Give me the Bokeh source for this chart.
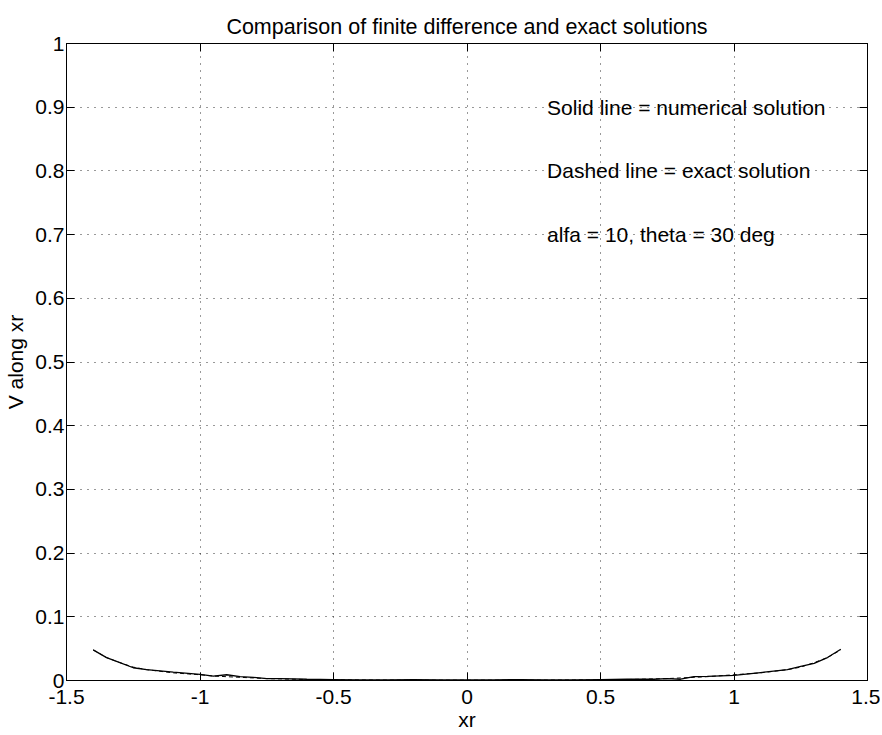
from bokeh.plotting import figure
from bokeh.models import LinearAxis, FixedTicker, Range1d, Label
from bokeh.embed import file_html
from bokeh.resources import INLINE

# Data
xr = [-1.4, -1.35, -1.3, -1.25, -1.2, -1.1, -1.0, -0.95, -0.9, -0.85, -0.8, -0.75, -0.7, -0.6,
      -0.5, -0.4, -0.3, -0.2, -0.1, 0.0, 0.1, 0.2, 0.3, 0.4, 0.5, 0.6, 0.7, 0.75, 0.8, 0.85,
      0.9, 1.0, 1.1, 1.2, 1.25, 1.3, 1.35, 1.4]
v_num = [0.048, 0.036, 0.028, 0.020, 0.017, 0.013, 0.0095, 0.007, 0.009, 0.006, 0.005, 0.003,
         0.003, 0.002, 0.0015, 0.001, 0.001, 0.0015, 0.001, 0.001, 0.001, 0.0015, 0.001, 0.001,
         0.0015, 0.002, 0.002, 0.003, 0.002, 0.006, 0.0065, 0.008, 0.0125, 0.017, 0.022,
         0.027, 0.036, 0.049]
v_exact = [0.048, 0.036, 0.028, 0.021, 0.017, 0.012, 0.009, 0.007, 0.006, 0.005, 0.004, 0.003,
           0.0025, 0.0015, 0.001, 0.0008, 0.0006, 0.0005, 0.0005, 0.0005, 0.0005, 0.0005, 0.0006,
           0.0008, 0.001, 0.0015, 0.0025, 0.003, 0.004, 0.005, 0.006, 0.009, 0.012, 0.017,
           0.021, 0.028, 0.036, 0.048]
x_ticks = [-1.5, -1, -0.5, 0, 0.5, 1, 1.5]
x_tick_labels = ["-1.5", "-1", "-0.5", "0", "0.5", "1", "1.5"]
y_ticks = [0, 0.1, 0.2, 0.3, 0.4, 0.5, 0.6, 0.7, 0.8, 0.9, 1]
y_tick_labels = ["0", "0.1", "0.2", "0.3", "0.4", "0.5", "0.6", "0.7", "0.8", "0.9", "1"]
notes = ["Solid line = numerical solution", "Dashed line = exact solution",
         "alfa = 10, theta = 30 deg"]
note_x = [0.3, 0.3, 0.3]
note_y = [0.9, 0.8, 0.7]

FONT = "Liberation Sans"
FS = "21px"

p = figure(width=880, height=733, output_backend="svg", toolbar_location=None,
           x_range=Range1d(-1.5, 1.5), y_range=Range1d(0, 1),
           min_border_left=66, min_border_right=13, min_border_top=43, min_border_bottom=52,
           x_axis_label="xr", y_axis_label="V along xr")
p.title.text = "Comparison of finite difference and exact solutions"
p.title.align = "center"
p.title.text_font = FONT
p.title.text_font_size = "21.5px"
p.title.text_font_style = "normal"
p.title.text_color = "black"
p.outline_line_color = "black"
p.outline_line_width = 1

for ax in p.xaxis + p.yaxis:
    ax.major_label_text_font = FONT
    ax.major_label_text_font_size = FS
    ax.major_label_text_color = "black"
    ax.axis_label_text_font = FONT
    ax.axis_label_text_font_size = FS
    ax.axis_label_text_font_style = "normal"
    ax.axis_label_text_color = "black"
    ax.major_tick_in = 8
    ax.major_tick_out = 0
    ax.minor_tick_in = 0
    ax.minor_tick_out = 0
    ax.axis_line_color = "black"
    ax.major_tick_line_color = "black"
p.xaxis.ticker = FixedTicker(ticks=x_ticks)
p.yaxis.ticker = FixedTicker(ticks=y_ticks)
p.xaxis.major_label_overrides = {t: s for t, s in zip(x_ticks, x_tick_labels)}
p.yaxis.major_label_overrides = {t: s for t, s in zip(y_ticks, y_tick_labels)}
p.xaxis.major_label_standoff = 9
p.xaxis.axis_label_standoff = 1
p.yaxis.major_label_standoff = 2
p.yaxis.axis_label_standoff = 5

# box axes (top / right), no labels
top = LinearAxis(ticker=FixedTicker(ticks=x_ticks), major_label_text_font_size="0px",
                 major_tick_in=8, major_tick_out=0, minor_tick_in=0, minor_tick_out=0)
right = LinearAxis(ticker=FixedTicker(ticks=y_ticks), major_label_text_font_size="0px",
                   major_tick_in=8, major_tick_out=0, minor_tick_in=0, minor_tick_out=0)
p.add_layout(top, "above")
p.add_layout(right, "right")

p.xgrid.ticker = FixedTicker(ticks=x_ticks)
p.ygrid.ticker = FixedTicker(ticks=y_ticks)
for g in (p.xgrid, p.ygrid):
    g.grid_line_color = "black"
    g.grid_line_dash = "1 6"
    g.grid_line_width = 1
    g.grid_line_alpha = 0.8

p.line(xr, v_exact, line_color="black", line_width=1, line_dash="4 3")
p.line(xr, v_num, line_color="black", line_width=1.3)

for t, x, y in zip(notes, note_x, note_y):
    p.add_layout(Label(x=x, y=y, text=t, text_font=FONT, text_font_size=FS,
                       text_baseline="middle", text_align="left", text_color="black"))

open("out.html", "w").write(file_html(p, INLINE))
